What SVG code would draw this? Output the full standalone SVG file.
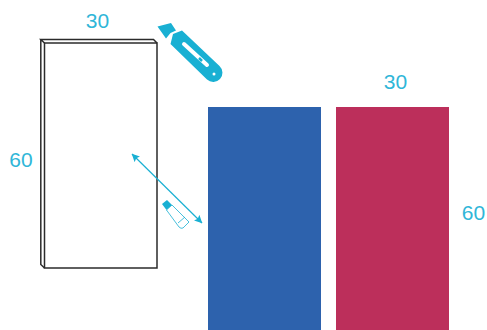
<svg xmlns="http://www.w3.org/2000/svg" width="487" height="330" viewBox="0 0 487 330">
<style>
.t{font-family:"Liberation Sans",Arial,sans-serif;font-size:21px;fill:#2fb6d8;text-anchor:middle}
.e{fill:none;stroke:#2b2b2b;stroke-width:1.500}
.c{fill:#19b0d3}
</style>
<defs>
<marker id="a" viewBox="0 0 10 10" refX="9.500" refY="5" markerWidth="8" markerHeight="8" orient="auto-start-reverse" markerUnits="userSpaceOnUse"><path d="M0 0L10 5L0 10L2 5Z" fill="#19b0d3"/></marker>
</defs>
<rect width="487" height="330" fill="#fff"/>
<g id="panel">
<path class="e" d="M44.500 43H157V268H44.500Z"/>
<path class="e" d="M44.500 43L40.800 39.500H153.500L157 43M40.800 39.500V264.500L44.500 268"/>
</g>
<g id="blue"><rect x="208" y="107" width="113" height="223" fill="#2d62ad"/></g>
<g id="red"><rect x="336" y="107" width="113" height="223" fill="#bc2f5b"/></g>
<g id="knife">
<path class="c" d="M157.500 26.500L171 23L176 30.500L170.500 33L166 38.500Z"/>
<path class="c" d="M170.500 44L173 34L182 30.500L219.500 66A9 9 0 0 1 207 79.500Z"/>
<path d="M184 44L207 65" fill="none" stroke="#fff" stroke-width="4" stroke-linecap="round"/>
<path d="M199 58L202 61" fill="none" stroke="#19b0d3" stroke-width="2.500"/>
<circle cx="214" cy="74" r="1.500" fill="#fff"/>
</g>
<g id="glue">
<path class="c" d="M162 204L167 200L172 205L166.500 210Z"/>
<path d="M166.500 210L172 205L189 222L183 228Q181 229 179 227Z" fill="#fff" stroke="#19b0d3" stroke-width="0.800"/>
<path d="M178 223L185 217" fill="none" stroke="#19b0d3" stroke-width="0.800"/>
</g>
<g id="connectors">
<path d="M132 154L202 223" fill="none" stroke="#19b0d3" stroke-width="1.200" marker-start="url(#a)" marker-end="url(#a)"/>
</g>
<g id="labels">
<text class="t" x="97.500" y="27.500">30</text>
<text class="t" x="21" y="166.500">60</text>
<text class="t" x="395.500" y="88.500">30</text>
<text class="t" x="473.500" y="220">60</text>
</g>
</svg>
